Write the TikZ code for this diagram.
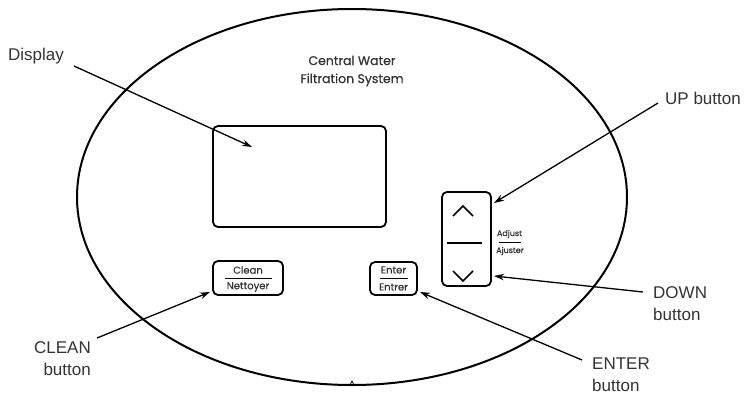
\documentclass[tikz,border=0pt]{standalone}
\usepackage{fontspec}
\setmainfont{Liberation Sans}
\newfontfamily\gothic[FakeBold=0.6]{Poppins}
\usetikzlibrary{arrows.meta,shapes.geometric}
\definecolor{ink}{HTML}{333333}
\begin{document}
\begin{tikzpicture}[x=1pt,y=-1pt,
  outline/.style={draw=black, line width=2pt},
  panelbox/.style={draw=black, line width=1.8pt, rounded corners=5pt, inner sep=0pt},
  callout/.style={draw=black, line width=1.3pt, -{Stealth[length=10pt,width=6.5pt]}},
  lbl/.style={font=\fontsize{17}{22}\selectfont, text=ink, inner sep=0pt},
  paneltext/.style={font=\gothic\fontsize{12.5}{18}\selectfont, text=ink, inner sep=0pt},
  btntext/.style={font=\gothic\fontsize{10}{10}\selectfont, text=ink, inner sep=0pt},
  smalltext/.style={font=\gothic\fontsize{8}{8}\selectfont, text=ink, inner sep=0pt},
  rule/.style={draw=black, line width=0.7pt},
  chevron/.style={draw=black, line width=1.6pt, line join=miter}
  ]
\useasboundingbox (0,0) rectangle (747,394);

% housing
\node[outline, ellipse, minimum width=550pt, minimum height=376pt, inner sep=0pt] (panel) at (352,197) {};
\draw[line width=0.8pt] (350,385) -- (352,381) -- (354,385);

% title
\node[paneltext, align=center] (title) at (352,71) {Central Water\\Filtration System};

% display
\node[panelbox, minimum width=173pt, minimum height=101pt] (display) at (299.5,176.5) {};

% clean button
\node[panelbox, minimum width=70pt, minimum height=34pt] (clean) at (248,278) {};
\node[btntext] (cleanA) at (248,270) {Clean};
\node[btntext] (cleanB) at (248,287) {Nettoyer};
\draw[rule] (225,278) -- (272,278);

% enter button
\node[panelbox, minimum width=47pt, minimum height=33pt] (enter) at (393.5,278.5) {};
\node[btntext] (enterA) at (393.5,270) {Enter};
\node[btntext] (enterB) at (393.5,287) {Entrer};
\draw[rule] (380,278) -- (408,278);

% up/down
\node[panelbox, minimum width=49pt, minimum height=94pt] (updown) at (466.5,239) {};
\draw[chevron] (453,216) -- (463,206) -- (473,216);
\draw[chevron] (453,271) -- (463,281) -- (473,271);
\draw[line width=1.3pt] (447,243) -- (482,243);
\node[smalltext] (adjA) at (509.5,234) {Adjust};
\node[smalltext] (adjB) at (510,251) {Ajuster};
\draw[rule] (499,242) -- (521,242);

% labels
\node[lbl, anchor=west] (displbl) at (8,56) {Display};
\node[lbl, anchor=west] (uplbl) at (665,98) {UP button};
\node[lbl, align=left, anchor=north west] (downlbl) at (653,286) {DOWN\\button};
\node[lbl, align=left, anchor=north west] (enterlbl) at (592,358) {ENTER\\button};
\node[lbl, align=right, anchor=north east] (cleanlbl) at (91,341) {CLEAN\\button};

% callout ends
\coordinate (dispS) at (74,66);   \coordinate (dispT) at (252,147);
\coordinate (upS) at (658,103);   \coordinate (upT) at (494,203);
\coordinate (downS) at (643,292); \coordinate (downT) at (494,276);
\coordinate (enterS) at (582,360);\coordinate (enterT) at (420,292);
\coordinate (cleanS) at (97,338); \coordinate (cleanT) at (210,292);

\draw[callout] (dispS) -- (dispT);
\draw[callout] (upS) -- (upT);
\draw[callout] (downS) -- (downT);
\draw[callout] (enterS) -- (enterT);
\draw[callout] (cleanS) -- (cleanT);
\end{tikzpicture}
\end{document}
